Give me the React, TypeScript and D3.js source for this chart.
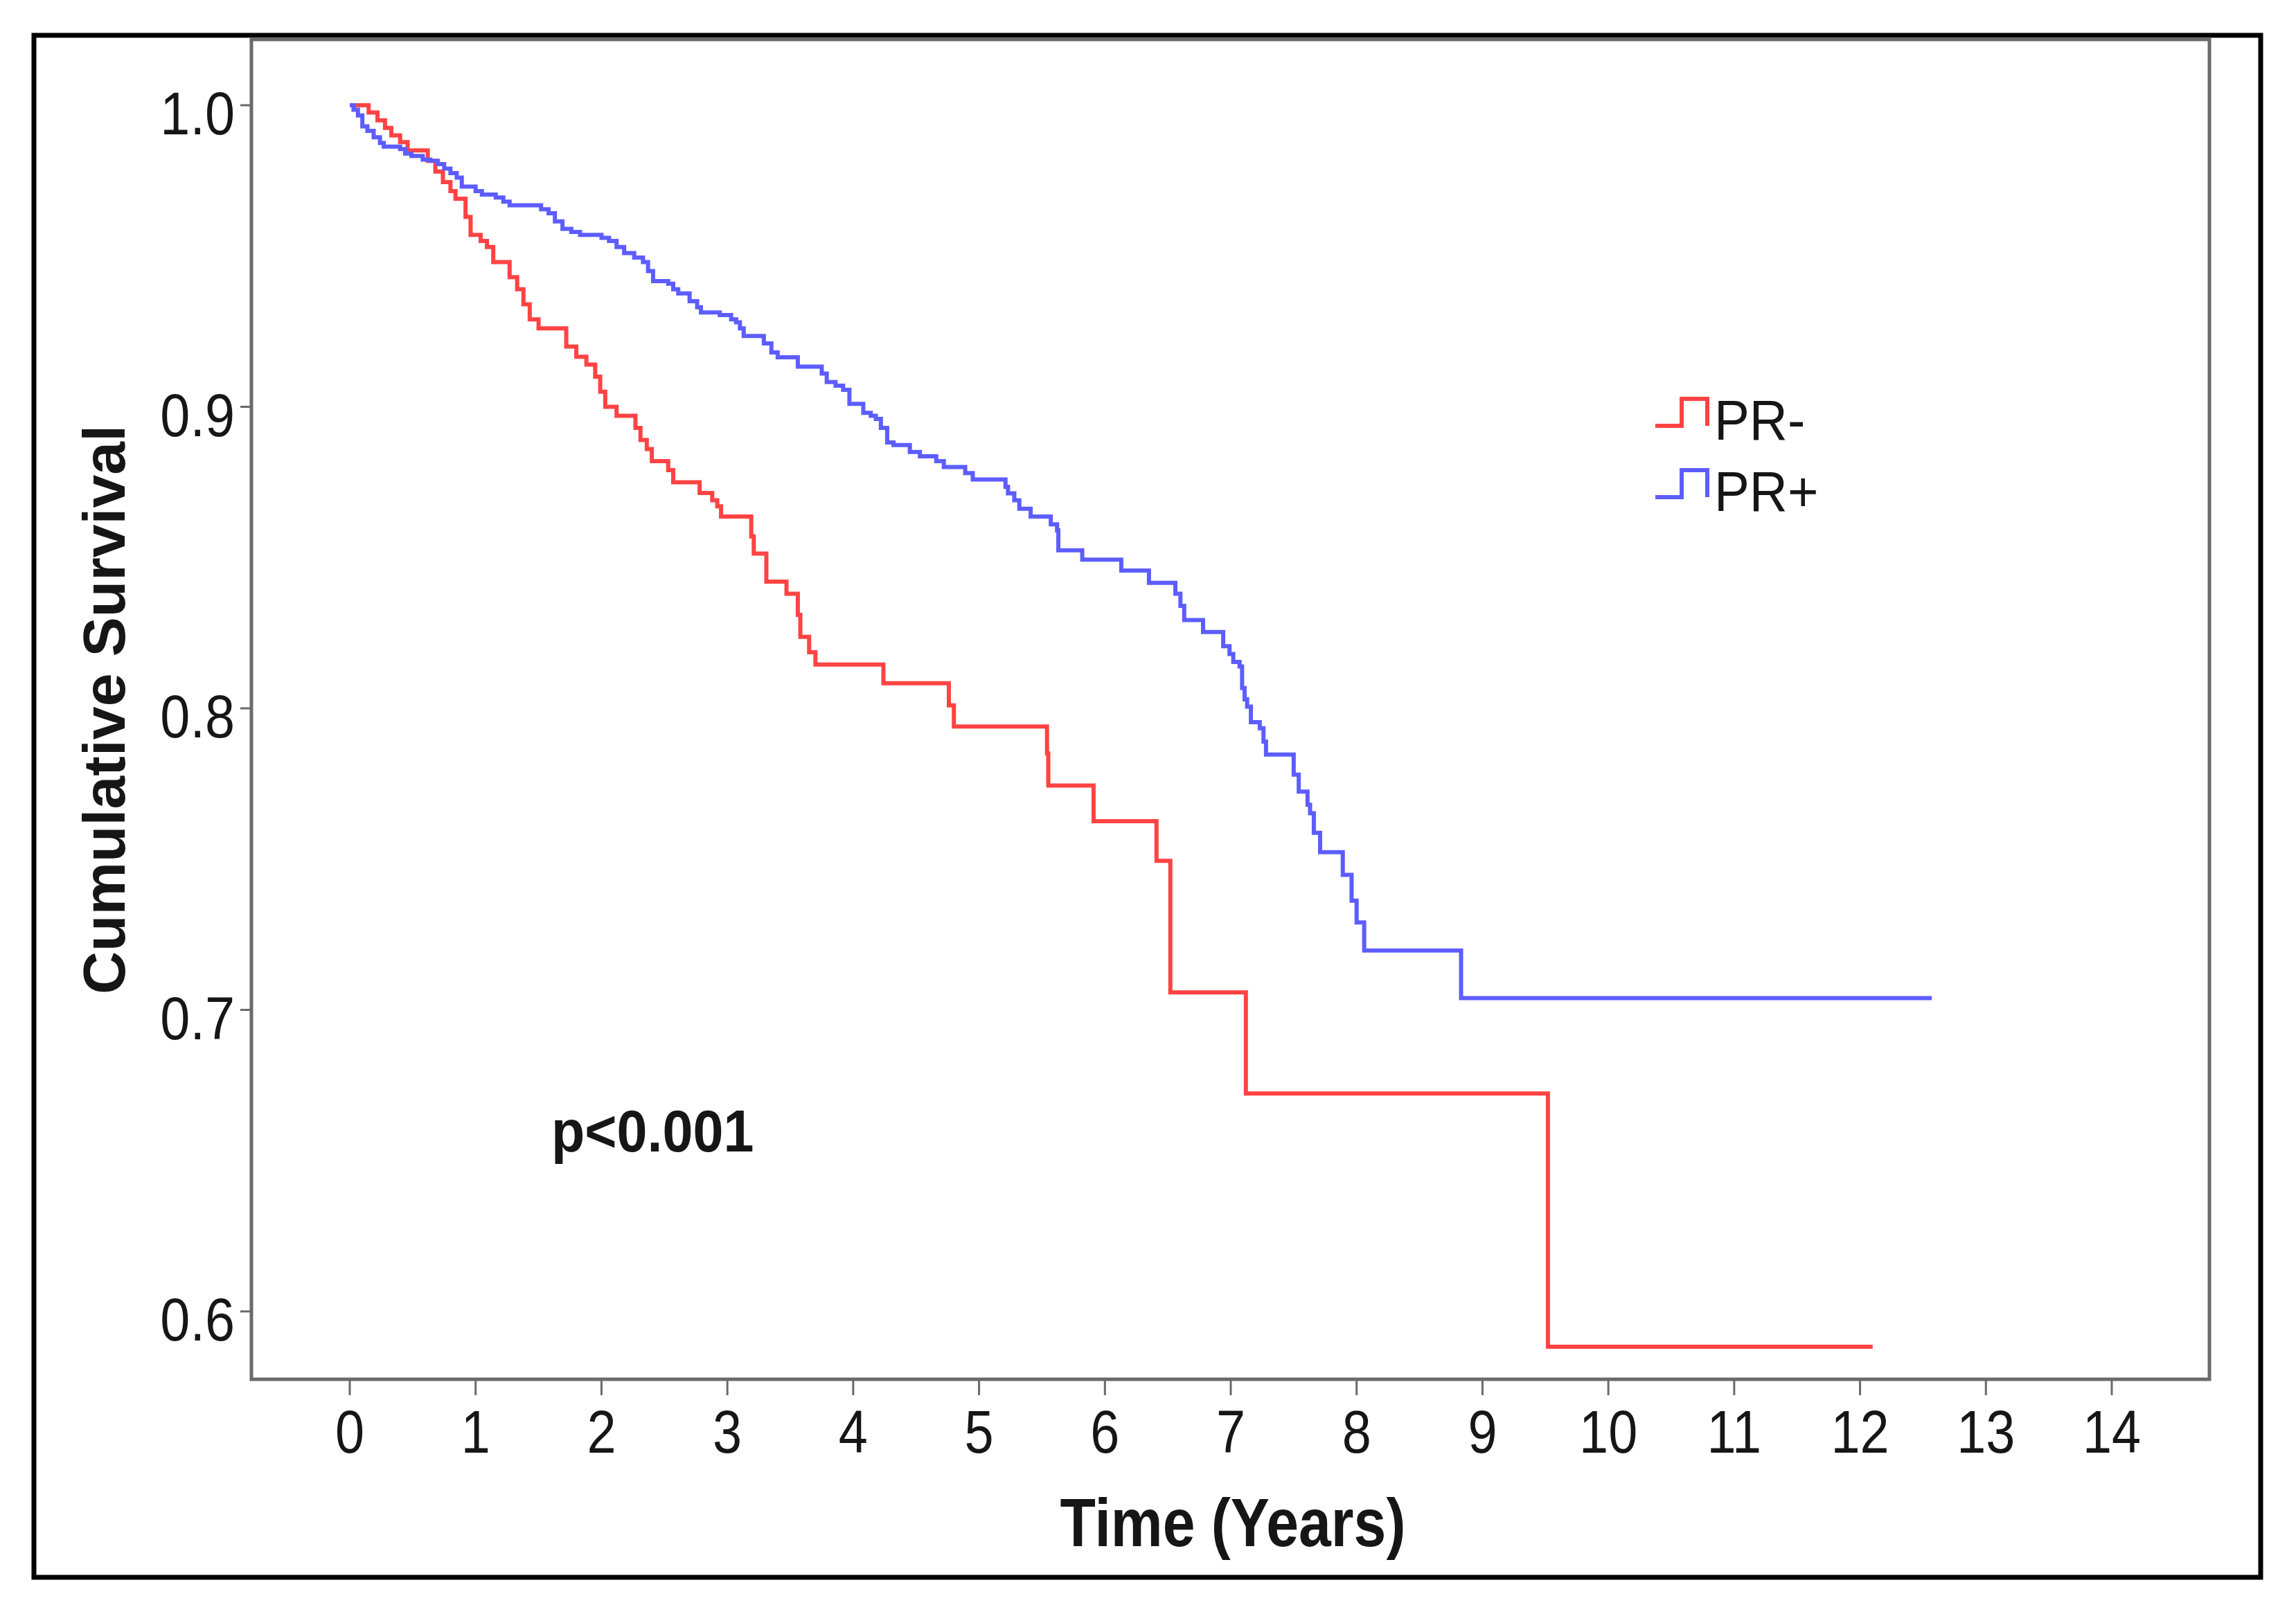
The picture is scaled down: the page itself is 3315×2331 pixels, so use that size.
import React from "react";
import * as d3 from "d3";

// ---------- data ----------
const xTickValues = [0, 1, 2, 3, 4, 5, 6, 7, 8, 9, 10, 11, 12, 13, 14];
const yTickValues = [0.6, 0.7, 0.8, 0.9, 1.0];
const yTickLabels = ["0.6", "0.7", "0.8", "0.9", "1.0"];

const seriesNames = ["PR-", "PR+"];
const seriesColors = ["#ff4343", "#5d5dff"];

const prNegTimes = [
  0, 0.15, 0.22, 0.28, 0.33, 0.4, 0.46, 0.62, 0.68, 0.74, 0.8, 0.84, 0.92, 0.96,
  1.04, 1.09, 1.14, 1.27, 1.33, 1.38, 1.43, 1.5, 1.72, 1.8, 1.88, 1.95, 1.99,
  2.03, 2.12, 2.27, 2.31, 2.36, 2.4, 2.53, 2.57, 2.78, 2.88, 2.92, 2.95, 3.19,
  3.21, 3.31, 3.47, 3.56, 3.58, 3.65, 3.7, 4.24, 4.76, 4.8, 5.54, 5.55, 5.91,
  6.41, 6.52, 7.12, 9.52, 12.1,
];
const prNegSurv = [
  1.0, 0.9976, 0.995, 0.9925, 0.99, 0.9878, 0.985, 0.9816, 0.978, 0.9745,
  0.9715, 0.969, 0.963, 0.957, 0.955, 0.953, 0.948, 0.943, 0.939, 0.934, 0.929,
  0.926, 0.92, 0.9166, 0.914, 0.91, 0.905, 0.9, 0.897, 0.893, 0.889, 0.886,
  0.882, 0.879, 0.875, 0.8714, 0.869, 0.867, 0.8636, 0.857, 0.8513, 0.842,
  0.838, 0.831, 0.8237, 0.8186, 0.8145, 0.8083, 0.801, 0.794, 0.785, 0.7744,
  0.7626, 0.7494, 0.7058, 0.6723, 0.5883, 0.5883,
];

const prPosTimes = [
  0, 0.03, 0.065, 0.1, 0.14, 0.19, 0.24, 0.27, 0.4, 0.44, 0.49, 0.58, 0.64,
  0.7, 0.75, 0.8, 0.85, 0.89, 1.0, 1.05, 1.16, 1.22, 1.27, 1.52, 1.58, 1.63,
  1.69, 1.76, 1.83, 2.0, 2.06, 2.12, 2.18, 2.26, 2.33, 2.37, 2.41, 2.53, 2.57,
  2.61, 2.7, 2.76, 2.79, 2.94, 3.03, 3.07, 3.1, 3.13, 3.29, 3.35, 3.4, 3.56,
  3.75, 3.79, 3.86, 3.92, 3.97, 4.08, 4.14, 4.18, 4.22, 4.27, 4.32, 4.45, 4.53,
  4.66, 4.72, 4.89, 4.95, 5.21, 5.23, 5.28, 5.32, 5.41, 5.57, 5.62, 5.63, 5.82,
  6.13, 6.35, 6.56, 6.6, 6.63, 6.78, 6.94, 6.99, 7.02, 7.07, 7.09, 7.11, 7.13,
  7.16, 7.23, 7.26, 7.28, 7.5, 7.54, 7.61, 7.63, 7.66, 7.71, 7.89, 7.96, 8.0,
  8.06, 8.83, 12.57,
];
const prPosSurv = [
  1.0, 0.9985, 0.9966, 0.993, 0.9915, 0.9894, 0.9875, 0.9863, 0.9855, 0.984,
  0.9832, 0.982, 0.9816, 0.9805, 0.979, 0.9775, 0.976, 0.973, 0.9715, 0.9704,
  0.9694, 0.968, 0.9668, 0.9655, 0.9642, 0.9615, 0.959, 0.958, 0.957, 0.956,
  0.955, 0.953, 0.951, 0.9495, 0.948, 0.945, 0.9417, 0.9408, 0.939, 0.9376,
  0.935, 0.933, 0.9313, 0.9304, 0.929, 0.928, 0.926, 0.9235, 0.921, 0.918,
  0.9164, 0.9133, 0.911, 0.9082, 0.907, 0.9056, 0.901, 0.898, 0.897, 0.896,
  0.893, 0.8882, 0.8873, 0.885, 0.8836, 0.882, 0.88, 0.878, 0.8759, 0.8735,
  0.8713, 0.869, 0.8662, 0.8636, 0.861, 0.859, 0.8524, 0.8493, 0.8457, 0.8416,
  0.838, 0.834, 0.8293, 0.8253, 0.8206, 0.818, 0.8154, 0.8139, 0.8067, 0.803,
  0.8006, 0.7954, 0.7934, 0.789, 0.7847, 0.778, 0.7724, 0.768, 0.7652, 0.7587,
  0.7523, 0.7448, 0.7362, 0.729, 0.7197, 0.7039, 0.7039,
];

const pValueText = "p<0.001";
const xTitle = "Time (Years)";
const yTitle = "Cumulative Survival";

// ---------- layout ----------
const W = 3315;
const H = 2331;
const FONT = "'Liberation Sans', Arial, Helvetica, sans-serif";

const frame = { left: 363, right: 3190, top: 57, bottom: 1992 };

export default function App() {
  const x = d3.scaleLinear().domain([0, 14]).range([505, 3049]);
  const y = d3.scaleLinear().domain([0.6, 1.0]).range([1894, 152]);

  const line = d3
    .line<[number, number]>()
    .x((d) => x(d[0]))
    .y((d) => y(d[1]))
    .curve(d3.curveStepAfter);

  const seriesData: [number, number][][] = [
    prNegTimes.map((t, i) => [t, prNegSurv[i]] as [number, number]),
    prPosTimes.map((t, i) => [t, prPosSurv[i]] as [number, number]),
  ];

  const axisColor = "#6a6a6a";
  const textColor = "#161616";

  const legendX = 2390;
  const legendY = [615, 718];

  return (
    <div style={{ position: "absolute", left: 0, top: 0 }}>
      <svg width={W} height={H} viewBox={`0 0 ${W} ${H}`} style={{ display: "block", background: "#fff" }}>
        <rect x={0} y={0} width={W} height={H} fill="#fff" />
        {/* outer border */}
        <rect x={49} y={51} width={3215} height={2227} fill="none" stroke="#000" strokeWidth={7} />

        {/* plot frame */}
        <rect
          x={frame.left}
          y={frame.top}
          width={frame.right - frame.left}
          height={frame.bottom - frame.top}
          fill="#fff"
          stroke={axisColor}
          strokeWidth={5}
        />

        {/* y ticks */}
        {yTickValues.map((v, i) => (
          <g key={"yt" + i}>
            <line x1={frame.left - 16} x2={frame.left} y1={y(v)} y2={y(v)} stroke={axisColor} strokeWidth={3} />
            <text
              transform={`translate(${frame.left - 24},${y(v) + 42}) scale(0.88,1)`}
              textAnchor="end"
              fontFamily={FONT}
              fontSize={88}
              fill={textColor}
            >
              {yTickLabels[i]}
            </text>
          </g>
        ))}

        {/* x ticks */}
        {xTickValues.map((v) => (
          <g key={"xt" + v}>
            <line x1={x(v)} x2={x(v)} y1={frame.bottom} y2={frame.bottom + 23} stroke={axisColor} strokeWidth={3} />
            <text
              transform={`translate(${x(v)},${2098}) scale(0.86,1)`}
              textAnchor="middle"
              fontFamily={FONT}
              fontSize={88}
              fill={textColor}
            >
              {String(v)}
            </text>
          </g>
        ))}

        {/* curves */}
        {seriesData.map((d, i) => (
          <path key={"s" + i} d={line(d) || ""} fill="none" stroke={seriesColors[i]} strokeWidth={6} strokeLinejoin="miter" />
        ))}

        {/* legend */}
        {seriesNames.map((name, i) => {
          const by = legendY[i];
          const ty = by - 39;
          return (
            <g key={"lg" + i}>
              <path
                d={`M${legendX},${by} H${legendX + 38} V${ty} H${legendX + 75} V${by}`}
                fill="none"
                stroke={seriesColors[i]}
                strokeWidth={6}
              />
              <text
                transform={`translate(${legendX + 85},${by + 20}) scale(0.93,1)`}
                fontFamily={FONT}
                fontSize={82}
                fill={textColor}
              >
                {name}
              </text>
            </g>
          );
        })}

        {/* p value */}
        <text
          transform={`translate(796,1663) scale(0.92,1)`}
          fontFamily={FONT}
          fontSize={86}
          fontWeight="bold"
          fill={textColor}
        >
          {pValueText}
        </text>

        {/* axis titles */}
        <text
          transform={`translate(1780,2233) scale(0.85,1)`}
          textAnchor="middle"
          fontFamily={FONT}
          fontSize={99}
          fontWeight="bold"
          fill={textColor}
        >
          {xTitle}
        </text>
        <text
          transform={`translate(180,1025) rotate(-90)`}
          textAnchor="middle"
          fontFamily={FONT}
          fontSize={86}
          fontWeight="bold"
          fill={textColor}
        >
          {yTitle}
        </text>
      </svg>
    </div>
  );
}
